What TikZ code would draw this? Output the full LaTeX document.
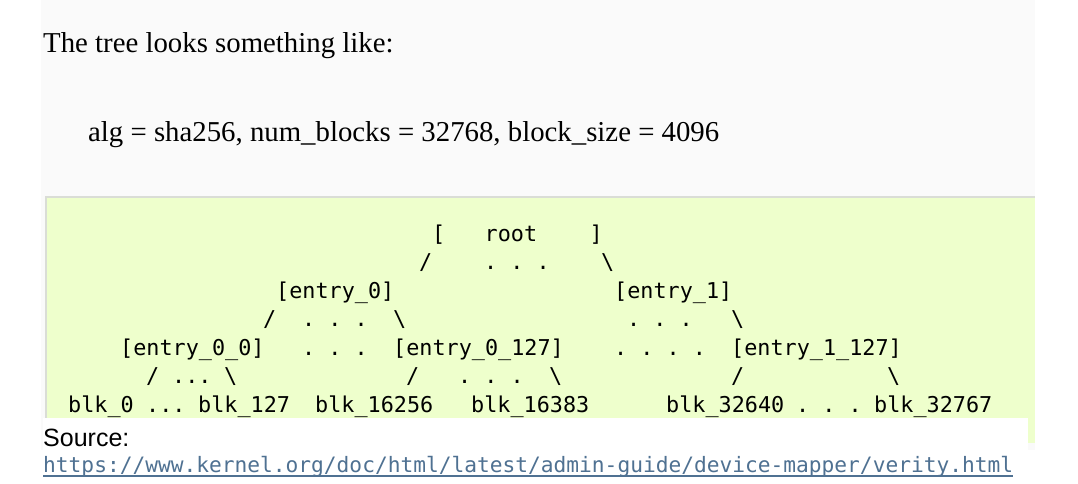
\documentclass[tikz,border=0pt]{standalone}
\usepackage{fontspec}
\setmainfont{Liberation Serif}
\newfontfamily\treemono{DejaVu Sans Mono}
\newfontfamily\srcsans{Liberation Sans}
\usetikzlibrary{calc}
\definecolor{pagebg}{HTML}{FAFAFA}
\definecolor{prebg}{HTML}{EEFFCC}
\definecolor{preline}{HTML}{DADDD6}
\definecolor{linkblue}{HTML}{4F7192}
\frenchspacing

\begin{document}
\begin{tikzpicture}[x=1pt,y=-1pt,
  txt/.style={anchor=base west,inner sep=0pt,text=black},
  pre/.style={txt,font=\treemono\fontsize{21.8}{26}\selectfont}]
\useasboundingbox (0,0) rectangle (1078,484);
% page and code block
\fill[pagebg] (41,0) rectangle (1035,450);
\fill[prebg] (45,196) rectangle (1035,443);
\draw[preline,line width=2pt] (46,443) -- (46,197) -- (1035,197);
\fill[white] (43,418) rectangle (1028,484);

\node[txt,font=\fontsize{28.8}{34}\selectfont] (title) at (43,53) {The tree looks something like:};
\node[txt,font=\fontsize{28.8}{34}\selectfont] (params) at (88,141) {alg = sha256, num\_blocks = 32768, block\_size = 4096};

% the tree, one column = one character
\begin{scope}[shift={(55,241)},x=13pt,y=-28.5pt]
\node[pre] (root) at (29,0) {[~~~root~~~~]};
\node[pre] (sl0) at (28,1) {/};
\node[pre] (dt0) at (33,1) {.~.~.};
\node[pre] (bs0) at (42,1) {\textbackslash};

\node[pre] (e0) at (17,2) {[entry\_0]};
\node[pre] (e1) at (43,2) {[entry\_1]};

\node[pre] (sl1) at (16,3) {/};
\node[pre] (dt1) at (19,3) {.~.~.};
\node[pre] (bs1) at (26,3) {\textbackslash};
\node[pre] (dt2) at (44,3) {.~.~.};
\node[pre] (bs2) at (52,3) {\textbackslash};

\node[pre] (e00) at (5,4) {[entry\_0\_0]};
\node[pre] (dt3) at (19,4) {.~.~.};
\node[pre] (e0n) at (26,4) {[entry\_0\_127]};
\node[pre] (dt4) at (43,4) {.~.~.~.};
\node[pre] (e1n) at (52,4) {[entry\_1\_127]};

\node[pre] (sl2) at (7,5) {/};
\node[pre] (dt5) at (9,5) {...};
\node[pre] (bs3) at (13,5) {\textbackslash};
\node[pre] (sl3) at (27,5) {/};
\node[pre] (dt6) at (31,5) {.~.~.};
\node[pre] (bs4) at (38,5) {\textbackslash};
\node[pre] (sl4) at (52,5) {/};
\node[pre] (bs5) at (64,5) {\textbackslash};

\node[pre] (b0) at (1,6) {blk\_0};
\node[pre] (dt7) at (7,6) {...};
\node[pre] (b127) at (11,6) {blk\_127};
\node[pre] (b16256) at (20,6) {blk\_16256};
\node[pre] (b16383) at (32,6) {blk\_16383};
\node[pre] (b32640) at (47,6) {blk\_32640};
\node[pre] (dt8) at (57,6) {.~.~.};
\node[pre] (b32767) at (63,6) {blk\_32767};
\end{scope}

% source line
\node[txt,font=\srcsans\fontsize{25}{30}\selectfont] (src) at (43,446) {Source:};
\node[txt,text=linkblue,font=\treemono\fontsize{21.2}{26}\selectfont] (url) at (43,472) {https://www.kernel.org/doc/html/latest/admin-guide/device-mapper/verity.html};
\draw[linkblue,line width=1.2pt] ($(url.base west)+(0,4)$) -- ($(url.base east)+(0,4)$);
\end{tikzpicture}
\end{document}
